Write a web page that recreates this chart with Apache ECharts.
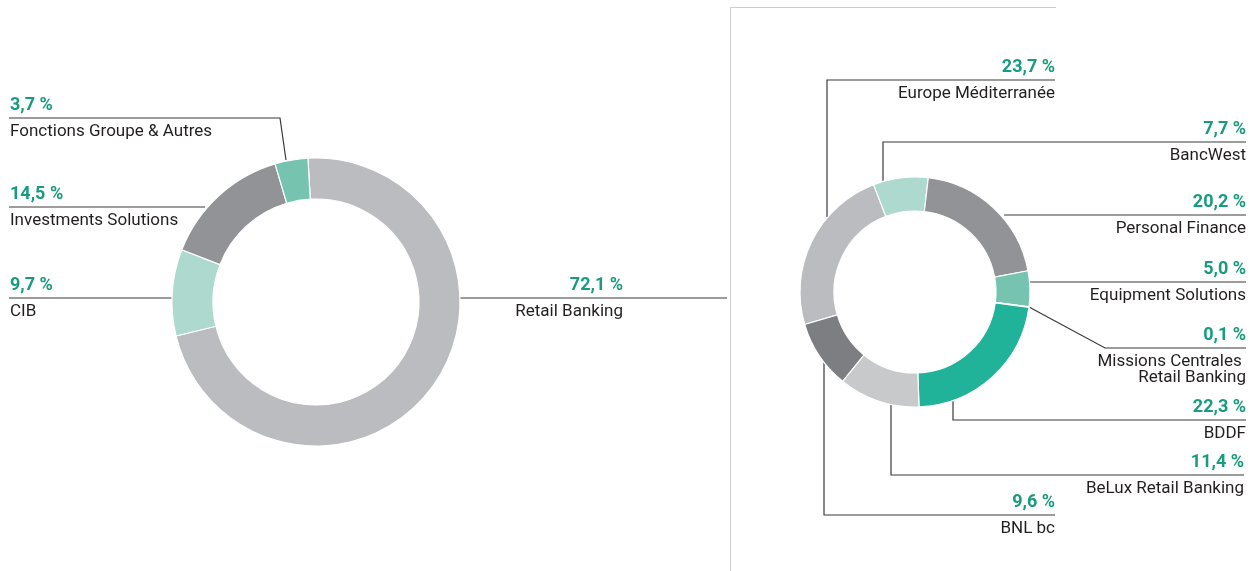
<!DOCTYPE html>
<html>
<head>
<meta charset="utf-8">
<script src="https://cdn.jsdelivr.net/npm/echarts@6/dist/echarts.min.js"></script>
<style>
html, body { margin: 0; padding: 0; background: #fff; }
#chart { width: 1251px; height: 571px; }
</style>
</head>
<body>
<div id="chart"></div>
<script>
// répartition par métier
const groupNames = ['Retail Banking', 'CIB', 'Investments Solutions', 'Fonctions Groupe & Autres'];
const groupValues = [72.1, 9.7, 14.5, 3.7];

// détail Retail Banking
const retailNames = ['Europe Méditerranée', 'BancWest', 'Personal Finance', 'Equipment Solutions',
    'Missions Centrales \nRetail Banking', 'BDDF', 'BeLux Retail Banking', 'BNL bc'];
const retailValues = [23.7, 7.7, 20.2, 5.0, 0.1, 22.3, 11.4, 9.6];

const groupColors = ['#bbbcc0', '#add9cf', '#929396', '#76c3b0'];
const retailColors = ['#bbbcc0', '#add9cf', '#929396', '#76c3b0', '#9fd3c5', '#20b39a', '#c8c9cb', '#7d7e82'];

// position des étiquettes : x, alignement, y du trait, tracé du trait
const groupLabels = [
    { x: 623, align: 'right', lineY: 298, pts: [[460, 298], [727, 298]] },
    { x: 10, align: 'left', lineY: 298, pts: [[172, 298], [9, 298]] },
    { x: 10, align: 'left', lineY: 207, pts: [[205, 207], [9, 207]] },
    { x: 10, align: 'left', lineY: 118, pts: [[286, 160], [280, 118], [9, 118]] }
];
const retailLabels = [
    { x: 1055, align: 'right', lineY: 80, pts: [[827, 217], [827, 80], [1055, 80]] },
    { x: 1246, align: 'right', lineY: 142, pts: [[883, 182], [883, 142], [1246, 142]] },
    { x: 1246, align: 'right', lineY: 215, pts: [[1004, 215], [1246, 215]] },
    { x: 1246, align: 'right', lineY: 282, pts: [[1030, 282], [1246, 282]] },
    { x: 1246, align: 'right', lineY: 348, pts: [[1029, 307], [1105, 348], [1246, 348]] },
    { x: 1246, align: 'right', lineY: 420, pts: [[953, 400], [953, 420], [1246, 420]] },
    { x: 1244, align: 'right', lineY: 475, pts: [[891, 404], [891, 475], [1244, 475]] },
    { x: 1055, align: 'right', lineY: 515, pts: [[824, 362], [824, 515], [1055, 515]] }
];

const FONT = 'Roboto, "Noto Sans", sans-serif';

function fmtPct(v) {
    return v.toFixed(1).replace('.', ',') + ' %';
}

function labelFormatter(params) {
    const lines = params.name.split('\n').map(function (s, k) {
        return (k ? '{m|' : '{n|') + s + '}';
    });
    return '{v|' + fmtPct(params.value) + '}\n' + lines.join('\n');
}

function makeRich(align) {
    return {
        v: { fontFamily: FONT, fontWeight: 'bold', fontSize: 18, color: '#179c7d', lineHeight: 26, align: align },
        n: { fontFamily: FONT, fontSize: 17, color: '#231f20', lineHeight: 27, align: align },
        m: { fontFamily: FONT, fontSize: 17, color: '#231f20', lineHeight: 5, align: align }
    };
}

function buildData(names, values, colors, layout) {
    return names.map(function (name, i) {
        return {
            name: name,
            value: values[i],
            itemStyle: { color: colors[i] },
            label: { align: layout[i].align, rich: makeRich(layout[i].align) }
        };
    });
}

function layoutFor(layout) {
    return function (params) {
        const l = layout[params.dataIndex];
        return {
            x: l.x,
            y: l.lineY - 26,
            align: l.align,
            verticalAlign: 'top',
            labelLinePoints: l.pts
        };
    };
}

function pieSeries(center, radius, startAngle, data, layout) {
    return {
        type: 'pie',
        center: center,
        radius: radius,
        startAngle: startAngle,
        clockwise: true,
        avoidLabelOverlap: false,
        silent: true,
        itemStyle: { borderColor: '#fff', borderWidth: 1.2 },
        label: {
            show: true,
            position: 'outside',
            formatter: labelFormatter
        },
        labelLine: {
            show: true,
            smooth: false,
            lineStyle: { color: '#3a3a3a', width: 1.2 }
        },
        labelLayout: layoutFor(layout),
        emphasis: { disabled: true },
        data: data
    };
}

const chart = echarts.init(document.getElementById('chart'), null, { renderer: 'canvas' });
chart.setOption({
    animation: false,
    backgroundColor: '#fff',
    graphic: [{
        type: 'polyline',
        shape: { points: [[730.5, 571], [730.5, 7.5], [1056, 7.5]] },
        style: { stroke: '#cdcdcd', lineWidth: 1, fill: null },
        silent: true
    }],
    series: [
        pieSeries([316, 302], [103, 144], 93.2,
            buildData(groupNames, groupValues, groupColors, groupLabels), groupLabels),
        pieSeries([915, 292], [81, 115], 196.4,
            buildData(retailNames, retailValues, retailColors, retailLabels), retailLabels)
    ]
});
</script>
</body>
</html>
